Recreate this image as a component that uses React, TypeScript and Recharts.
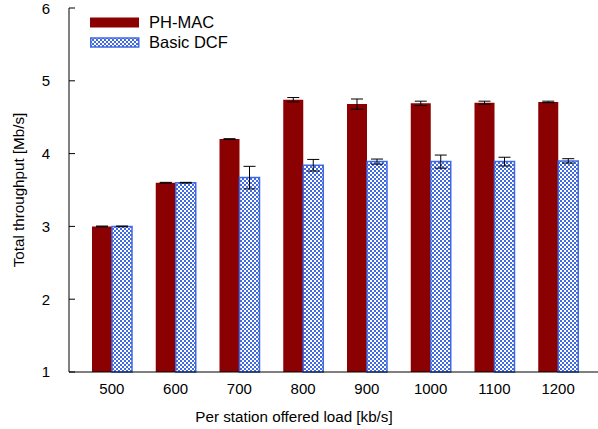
import { Bar, BarChart, ErrorBar, Legend, XAxis, YAxis } from "recharts";

const categories = ["500", "600", "700", "800", "900", "1000", "1100", "1200"];
const phMac = [3.0, 3.6, 4.2, 4.74, 4.68, 4.69, 4.7, 4.71];
const phMacErr = [0.005, 0.005, 0.005, 0.03, 0.07, 0.03, 0.02, 0.01];
const basicDcf = [3.0, 3.6, 3.67, 3.84, 3.89, 3.89, 3.89, 3.9];
const basicDcfErr = [0.005, 0.005, 0.155, 0.08, 0.035, 0.09, 0.06, 0.03];
const yTicks = [1, 2, 3, 4, 5, 6];
const seriesNames = ["PH-MAC", "Basic DCF"];

const data = categories.map((name, i) => ({
  name,
  ph: phMac[i],
  phErr: phMacErr[i],
  dcf: basicDcf[i],
  dcfErr: basicDcfErr[i],
}));

const FONT = '"Liberation Sans", Arial, sans-serif';
const RED = "#8b0000";
const BLUE = "#4169e1";

const renderLegend = () => (
  <div style={{ fontFamily: FONT, fontSize: 16.5, color: "#000" }}>
    {seriesNames.map((s, i) => (
      <div key={s} style={{ display: "flex", alignItems: "center", height: 20 }}>
        <svg width={50} height={11} style={{ marginRight: 9 }}>
          {i === 0 ? (
            <rect x={0} y={0.5} width={49} height={10} fill={RED} />
          ) : (
            <rect x={0.75} y={1} width={48} height={9} fill="url(#checks)" stroke={BLUE} strokeWidth={1.5} />
          )}
        </svg>
        <span>{s}</span>
      </div>
    ))}
  </div>
);

const YLabel = ({ viewBox }: any) => {
  const cx = 18;
  const cy = viewBox.y + viewBox.height / 2;
  return (
    <text x={cx} y={cy} transform={`rotate(-90 ${cx} ${cy})`} textAnchor="middle" dominantBaseline="central" fontSize={15.2} fontFamily={FONT} fill="#000">
      Total throughput [Mb/s]
    </text>
  );
};

const XLabel = () => (
  <text x={294} y={416} textAnchor="middle" dominantBaseline="central" fontSize={15.2} fontFamily={FONT} fill="#000">
    Per station offered load [kb/s]
  </text>
);

export default function App() {
  const tickStyle = { fontSize: 15, fontFamily: FONT, fill: "#000" };
  return (
    <div style={{ position: "absolute", left: 0, top: 0, width: 598, height: 429, overflow: "hidden", background: "#fff" }}>
      <svg width={0} height={0} style={{ position: "absolute" }}>
        <defs>
          <pattern id="checks" patternUnits="userSpaceOnUse" width={4} height={4}>
            <rect width={4} height={4} fill="#fff" />
            <rect x={0} y={0} width={2} height={2} fill={BLUE} />
            <rect x={2} y={2} width={2} height={2} fill={BLUE} />
          </pattern>
        </defs>
      </svg>
      <BarChart
        width={603}
        height={429}
        data={data}
        margin={{ top: 8, right: 2, left: 0, bottom: 0 }}
        barCategoryGap={12}
        barGap={0}
      >
        <XAxis
          dataKey="name"
          height={57}
          padding={{ left: 11, right: 11 }}
          tickLine={false}
          tickSize={0}
          tickMargin={11}
          tick={tickStyle}
          axisLine={{ stroke: "#000" }}
          label={<XLabel />}
        />
        <XAxis
          xAxisId="top"
          dataKey="name"
          orientation="top"
          height={0}
          padding={{ left: 11, right: 11 }}
          tickSize={-6}
          tick={() => <g />}
          tickLine={{ stroke: "#000" }}
          axisLine={{ stroke: "#000" }}
        />
        <YAxis
          domain={[1, 6]}
          ticks={yTicks}
          width={69}
          tickSize={-6}
          tickMargin={25}
          tick={tickStyle}
          tickLine={{ stroke: "#000" }}
          axisLine={{ stroke: "#000" }}
          label={<YLabel />}
        />
        <Legend
          layout="vertical"
          align="center"
          verticalAlign="middle"
          content={renderLegend}
          wrapperStyle={{ top: 12, left: 90, width: 200 }}
        />
        <Bar dataKey="ph" name={seriesNames[0]} fill={RED} isAnimationActive={false}>
          <ErrorBar dataKey="phErr" width={6} stroke="#000" strokeWidth={1} direction="y" />
        </Bar>
        <Bar dataKey="dcf" name={seriesNames[1]} fill="url(#checks)" stroke={BLUE} strokeWidth={1.5} isAnimationActive={false}>
          <ErrorBar dataKey="dcfErr" width={6} stroke="#000" strokeWidth={1} direction="y" />
        </Bar>
      </BarChart>
    </div>
  );
}
